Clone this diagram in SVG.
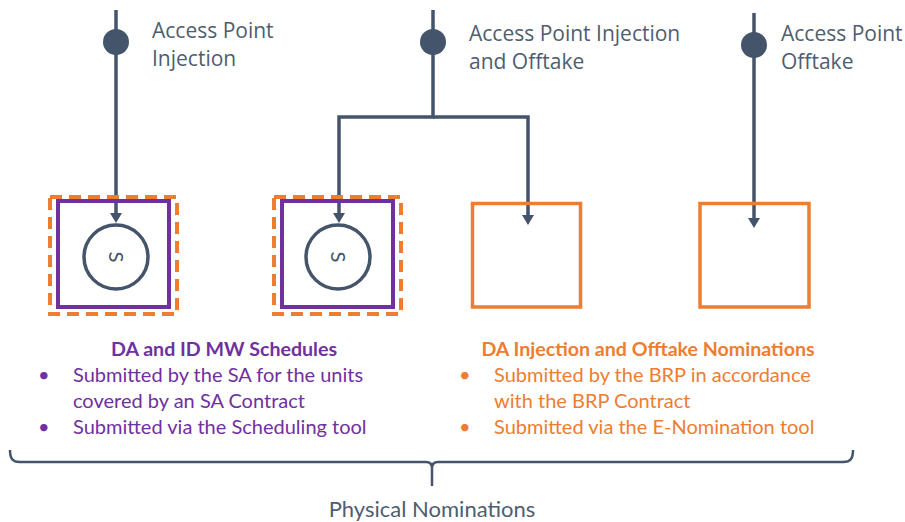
<svg xmlns="http://www.w3.org/2000/svg" width="905" height="522" viewBox="0 0 905 522">
<style>
.lbl{font-family:"Open Sans","Liberation Sans",sans-serif;font-size:21px;fill:#4E5D70}
.conn{fill:none;stroke:#44546A;stroke-width:3.5}
.dot{fill:#44546A}
.dash{fill:none;stroke:#ED7D31;stroke-width:4;stroke-dasharray:12 7}
.pbox{fill:none;stroke:#7030A0;stroke-width:4}
.obox{fill:none;stroke:#ED7D31;stroke-width:3.5}
.circ{fill:none;stroke:#44546A;stroke-width:3.5}
.s{font-family:Lato,"Liberation Sans",sans-serif;font-size:20px;fill:#44546A;text-anchor:middle}
.txt{font-family:Lato,"Liberation Sans",sans-serif;font-size:20px}
.ttl{font-family:Lato,"Liberation Sans",sans-serif;font-size:19.6px;font-weight:bold;text-anchor:middle}
.pur{fill:#7030A0}
.ora{fill:#ED7D31}
.brace{fill:none;stroke:#44546A;stroke-width:2.5}
.foot{font-family:Lato,"Liberation Sans",sans-serif;font-size:22px;fill:#4E5D70;text-anchor:middle}
</style>
<defs>
<marker id="arr" viewBox="0 0 10 12" refX="2" refY="6" markerWidth="10" markerHeight="12" markerUnits="userSpaceOnUse" orient="auto">
<path d="M0,0 L10,6 L0,12 z" fill="#44546A"/>
</marker>
</defs>

<g id="connectors">
<path class="conn" d="M116,10 V215" marker-end="url(#arr)"/>
<path class="conn" d="M433,10 V117 H339 V215" marker-end="url(#arr)"/>
<path class="conn" d="M433,117 H528 V217" marker-end="url(#arr)"/>
<path class="conn" d="M754,13 V220" marker-end="url(#arr)"/>
</g>

<g id="ap-injection">
<circle class="dot" cx="116" cy="42" r="13"/>
<text class="lbl" x="152" y="38">Access Point</text>
<text class="lbl" x="152" y="66">Injection</text>
</g>

<g id="ap-injection-offtake">
<circle class="dot" cx="433" cy="42" r="13"/>
<text class="lbl" x="469" y="41">Access Point Injection</text>
<text class="lbl" x="469" y="69">and Offtake</text>
</g>

<g id="ap-offtake">
<circle class="dot" cx="754" cy="45" r="13"/>
<text class="lbl" x="781" y="41">Access Point</text>
<text class="lbl" x="781" y="69">Offtake</text>
</g>

<g id="unit1">
<rect class="dash" x="50" y="197" width="127" height="117"/>
<rect class="pbox" x="58" y="201" width="111" height="106"/>
<circle class="circ" cx="116" cy="257" r="32"/>
<text class="s" transform="translate(116,257) rotate(90)" y="7">S</text>
</g>

<g id="unit2">
<rect class="dash" x="274" y="197" width="127" height="117"/>
<rect class="pbox" x="282" y="201" width="111" height="106"/>
<circle class="circ" cx="338" cy="257" r="32"/>
<text class="s" transform="translate(338,257) rotate(90)" y="7">S</text>
</g>

<g id="box3">
<rect class="obox" x="472.5" y="203.5" width="108" height="103.5"/>
</g>

<g id="box4">
<rect class="obox" x="700" y="203.5" width="109" height="103.5"/>
</g>

<g id="schedules-text">
<text class="ttl pur" x="224" y="356">DA and ID MW Schedules</text>
<text class="txt pur" x="38" y="382">•</text>
<text class="txt pur" x="73" y="382">Submitted by the SA for the units</text>
<text class="txt pur" x="73" y="408">covered by an SA Contract</text>
<text class="txt pur" x="38" y="434">•</text>
<text class="txt pur" x="73" y="434">Submitted via the Scheduling tool</text>
</g>

<g id="nominations-text">
<text class="ttl ora" x="648" y="356">DA Injection and Offtake Nominations</text>
<text class="txt ora" x="459" y="382">•</text>
<text class="txt ora" x="494" y="382">Submitted by the BRP in accordance</text>
<text class="txt ora" x="494" y="408">with the BRP Contract</text>
<text class="txt ora" x="459" y="434">•</text>
<text class="txt ora" x="494" y="434">Submitted via the E-Nomination tool</text>
</g>

<g id="physical-nominations">
<path class="brace" d="M10,450 C10,458 12,462 20,462 H426 C430,462 432,464 432,468 V486 M432,468 C432,464 434,462 438,462 H843 C851,462 853,458 853,450"/>
<text class="foot" x="432" y="517">Physical Nominations</text>
</g>
</svg>
